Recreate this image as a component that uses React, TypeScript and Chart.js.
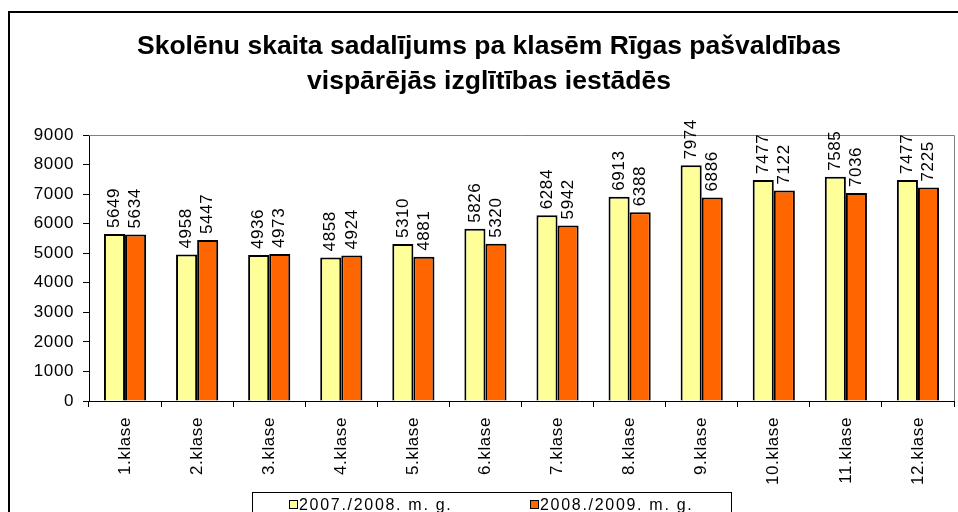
import React, { useEffect, useRef } from "react";
import { Chart, registerables } from "chart.js";

Chart.register(...registerables);

const categories = [
  "1.klase", "2.klase", "3.klase", "4.klase", "5.klase", "6.klase",
  "7.klase", "8.klase", "9.klase", "10.klase", "11.klase", "12.klase",
];
const series2007 = [5649, 4958, 4936, 4858, 5310, 5826, 6284, 6913, 7974, 7477, 7585, 7477];
const series2008 = [5634, 5447, 4973, 4924, 4881, 5320, 5942, 6388, 6886, 7122, 7036, 7225];
const seriesNames = ["2007./2008. m. g.", "2008./2009. m. g."];
const titleLines = [
  "Skolēnu skaita sadalījums pa klasēm Rīgas pašvaldības",
  "vispārējās izglītības iestādēs",
];
const yMax = 9000;
const yStep = 1000;

const FONT = '"Liberation Sans", Arial, Helvetica, sans-serif';
const YELLOW = "#FFFF99";
const ORANGE = "#FF6600";

const decorPlugin = {
  id: "decor",
  beforeDraw(chart: any) {
    const ctx = chart.ctx;
    ctx.letterSpacing = "0.6px";
    ctx.save();
    ctx.fillStyle = "#ffffff";
    ctx.fillRect(0, 0, chart.width, chart.height);
    ctx.restore();
  },
  afterDraw(chart: any) {
    const ctx = chart.ctx;
    const area = chart.chartArea;
    ctx.save();
    // outer frame (extends beyond the canvas on right/bottom)
    ctx.strokeStyle = "#000000";
    ctx.lineWidth = 2;
    ctx.strokeRect(9, 12, chart.width + 20, chart.height + 20);

    // plot area gray border (top & right)
    ctx.strokeStyle = "#808080";
    ctx.lineWidth = 1;
    ctx.beginPath();
    ctx.moveTo(area.left, area.top + 0.5);
    ctx.lineTo(area.right + 0.5, area.top + 0.5);
    ctx.lineTo(area.right + 0.5, area.bottom);
    ctx.stroke();

    // title
    ctx.letterSpacing = "0px";
    ctx.fillStyle = "#000000";
    ctx.font = `bold 26.5px ${FONT}`;
    ctx.textAlign = "center";
    ctx.textBaseline = "alphabetic";
    ctx.fillText(titleLines[0], 489, 54);
    ctx.fillText(titleLines[1], 489, 89);

    // data labels
    ctx.letterSpacing = "0.6px";
    ctx.font = `17px ${FONT}`;
    ctx.textAlign = "left";
    ctx.textBaseline = "middle";
    chart.data.datasets.forEach((ds: any, di: number) => {
      const meta = chart.getDatasetMeta(di);
      meta.data.forEach((bar: any, i: number) => {
        ctx.save();
        ctx.translate(bar.x, bar.y - 6);
        ctx.rotate(-Math.PI / 2);
        ctx.fillText(String(ds.data[i]), 0, 0);
        ctx.restore();
      });
    });

    // legend
    ctx.strokeStyle = "#000000";
    ctx.lineWidth = 1;
    ctx.strokeRect(252.5, 492.5, 479, 40);
    const legendX = [289, 530];
    const colors = [YELLOW, ORANGE];
    ctx.font = `16px ${FONT}`;
    ctx.letterSpacing = "1.7px";
    ctx.textAlign = "left";
    ctx.textBaseline = "alphabetic";
    for (let k = 0; k < 2; k++) {
      ctx.fillStyle = colors[k];
      ctx.fillRect(legendX[k], 500, 8, 8);
      ctx.strokeRect(legendX[k] + 0.5, 500.5, 8, 8);
      ctx.fillStyle = "#000000";
      ctx.fillText(seriesNames[k], legendX[k] + 10, 510);
    }
    ctx.restore();
  },
};

export default function App() {
  const ref = useRef<HTMLCanvasElement | null>(null);
  useEffect(() => {
    if (!ref.current) return;
    const chart = new Chart(ref.current, {
      type: "bar",
      data: {
        labels: categories,
        datasets: [
          {
            label: seriesNames[0],
            data: series2007,
            backgroundColor: YELLOW,
            borderColor: "#000000",
            borderWidth: 2,
            categoryPercentage: 0.585,
            barPercentage: 1,
          },
          {
            label: seriesNames[1],
            data: series2008,
            backgroundColor: ORANGE,
            borderColor: "#000000",
            borderWidth: 2,
            categoryPercentage: 0.585,
            barPercentage: 1,
          },
        ],
      },
      options: {
        animation: false,
        responsive: false,
        devicePixelRatio: 1,
        layout: { padding: { left: 9, right: 4, top: 135, bottom: 0 } },
        plugins: {
          legend: { display: false },
          title: { display: false },
          tooltip: { enabled: false },
        },
        scales: {
          x: {
            grid: {
              offset: true,
              drawOnChartArea: false,
              drawTicks: true,
              tickLength: 6,
              tickColor: "#000000",
            },
            border: { color: "#000000", width: 1 },
            ticks: {
              minRotation: 90,
              maxRotation: 90,
              padding: 10,
              color: "#000000",
              font: { family: FONT, size: 17 },
              autoSkip: false,
            },
            afterFit(scale: any) {
              scale.height = 111;
            },
          },
          y: {
            min: 0,
            max: yMax,
            ticks: {
              stepSize: yStep,
              padding: 9,
              color: "#000000",
              font: { family: FONT, size: 17 },
              callback: (v: any) => String(v),
            },
            grid: {
              drawOnChartArea: false,
              drawTicks: true,
              tickLength: 6,
              tickColor: "#000000",
            },
            border: { color: "#000000", width: 1 },
            afterFit(scale: any) {
              scale.width = 80;
            },
          },
        },
      },
      plugins: [decorPlugin],
    });
    return () => chart.destroy();
  }, []);
  return (
    <div style={{ position: "fixed", left: 0, top: 0, width: 958, height: 512, background: "#fff" }}>
      <canvas ref={ref} width={958} height={512} style={{ display: "block" }} />
    </div>
  );
}
